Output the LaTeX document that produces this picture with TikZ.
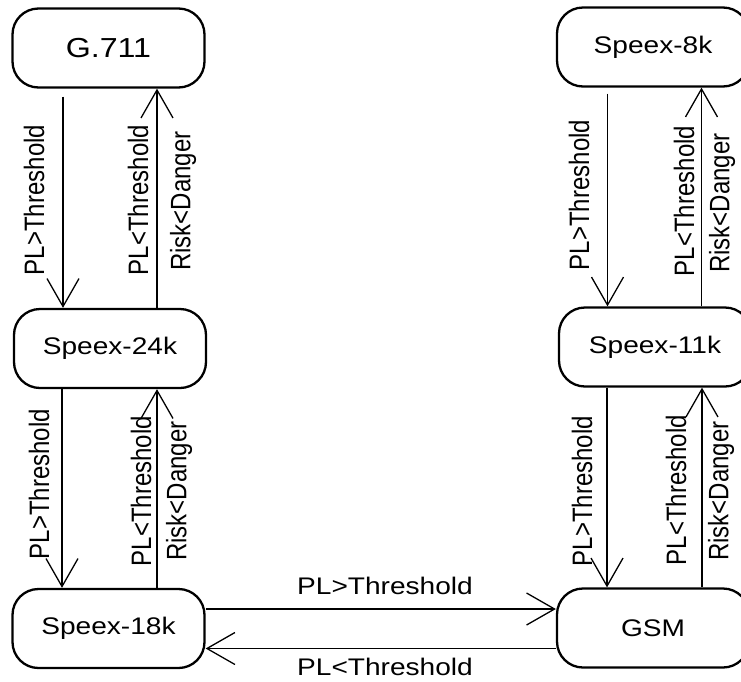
\documentclass[tikz,border=0pt]{standalone}
\usepackage{fontspec}
\setmainfont{Liberation Sans}
\usepackage{graphicx}
\usetikzlibrary{arrows.meta}
% text is set slightly wide, as in the original drawing
\newcommand\widetext[1]{\scalebox{1.17}[1]{#1}}
\newcommand\tallertext[1]{\scalebox{1}[1.17]{#1}}
\begin{document}
\begin{tikzpicture}[x=1pt,y=-1pt,
  state/.style={draw, line width=2.3pt, rounded corners=26pt,
    minimum width=192pt, minimum height=79pt, inner sep=0pt,
    font=\fontsize{24}{28}\selectfont},
  edge/.style={line width=1.3pt, -{Straight Barb[length=28pt,width=32pt]}},
  vlabel/.style={rotate=90, inner sep=0pt, font=\fontsize{24}{28}\selectfont},
  hlabel/.style={inner sep=0pt, font=\fontsize{24}{28}\selectfont}]
\useasboundingbox (0,0) rectangle (741,681);
\clip (0,0) rectangle (741,681);

% codec states
\node[state, font=\fontsize{27.5}{32}\selectfont] (g711) at (108.5,48) {\widetext{G.711}};
\node[state] (s24) at (110,348.5) {\widetext{Speex-24k}};
\node[state] (s18) at (108.5,628.5) {\widetext{Speex-18k}};
\node[state] (s8)  at (653,47) {\widetext{Speex-8k}};
\node[state] (s11) at (655,347) {\widetext{Speex-11k}};
\node[state] (gsm) at (653,628) {\widetext{GSM}};

% left column transitions
\draw[edge] ([xshift=-45.5pt,yshift=-8pt]g711.south) -- ([xshift=-45.5pt]g711.south |- s24.north);
\draw[edge] ([xshift=48.5pt]g711.south |- s24.north) -- ([xshift=48.5pt]g711.south);
\draw[edge] ([xshift=-46.5pt]s18.north |- s24.south) -- ([xshift=-46.5pt]s18.north);
\draw[edge] ([xshift=48.5pt]s18.north) -- ([xshift=48.5pt]s18.north |- s24.south);

% right column transitions
\draw[edge] ([xshift=-45.5pt,yshift=-6pt]s8.south) -- ([xshift=-45.5pt]s8.south |- s11.north);
\draw[edge] ([xshift=48.5pt]s8.south |- s11.north) -- ([xshift=48.5pt]s8.south);
\draw[edge] ([xshift=-46pt]gsm.north |- s11.south) -- ([xshift=-46pt]gsm.north);
\draw[edge] ([xshift=49pt]gsm.north) -- ([xshift=49pt]gsm.north |- s11.south);

% bottom transitions
\draw[edge] ([yshift=19.5pt]s18.east) -- ([yshift=19.5pt]s18.east -| gsm.west);
\draw[edge] ([yshift=-20.5pt]gsm.west) -- ([yshift=-20.5pt]gsm.west -| s18.east);

% transition labels, left column
\node[vlabel] (l1) at (34,200) {\tallertext{PL>Threshold}};
\node[vlabel] (l2) at (138,200) {\tallertext{PL<Threshold}};
\node[vlabel] (l3) at (183,201) {\tallertext{Risk<Danger}};
\node[vlabel] (l4) at (39,484) {\tallertext{PL>Threshold}};
\node[vlabel] (l5) at (141,491) {\tallertext{PL<Threshold}};
\node[vlabel] (l6) at (179,491) {\tallertext{Risk<Danger}};

% transition labels, right column
\node[vlabel] (r1) at (579,195) {\tallertext{PL>Threshold}};
\node[vlabel] (r2) at (684,201) {\tallertext{PL<Threshold}};
\node[vlabel] (r3) at (722,203) {\tallertext{Risk<Danger}};
\node[vlabel] (r4) at (582,491) {\tallertext{PL>Threshold}};
\node[vlabel] (r5) at (676,490) {\tallertext{PL<Threshold}};
\node[vlabel] (r6) at (721,491) {\tallertext{Risk<Danger}};

% transition labels, bottom
\node[hlabel] (b1) at (385,586) {\widetext{PL>Threshold}};
\node[hlabel] (b2) at (385,667) {\widetext{PL<Threshold}};
\end{tikzpicture}
\end{document}
